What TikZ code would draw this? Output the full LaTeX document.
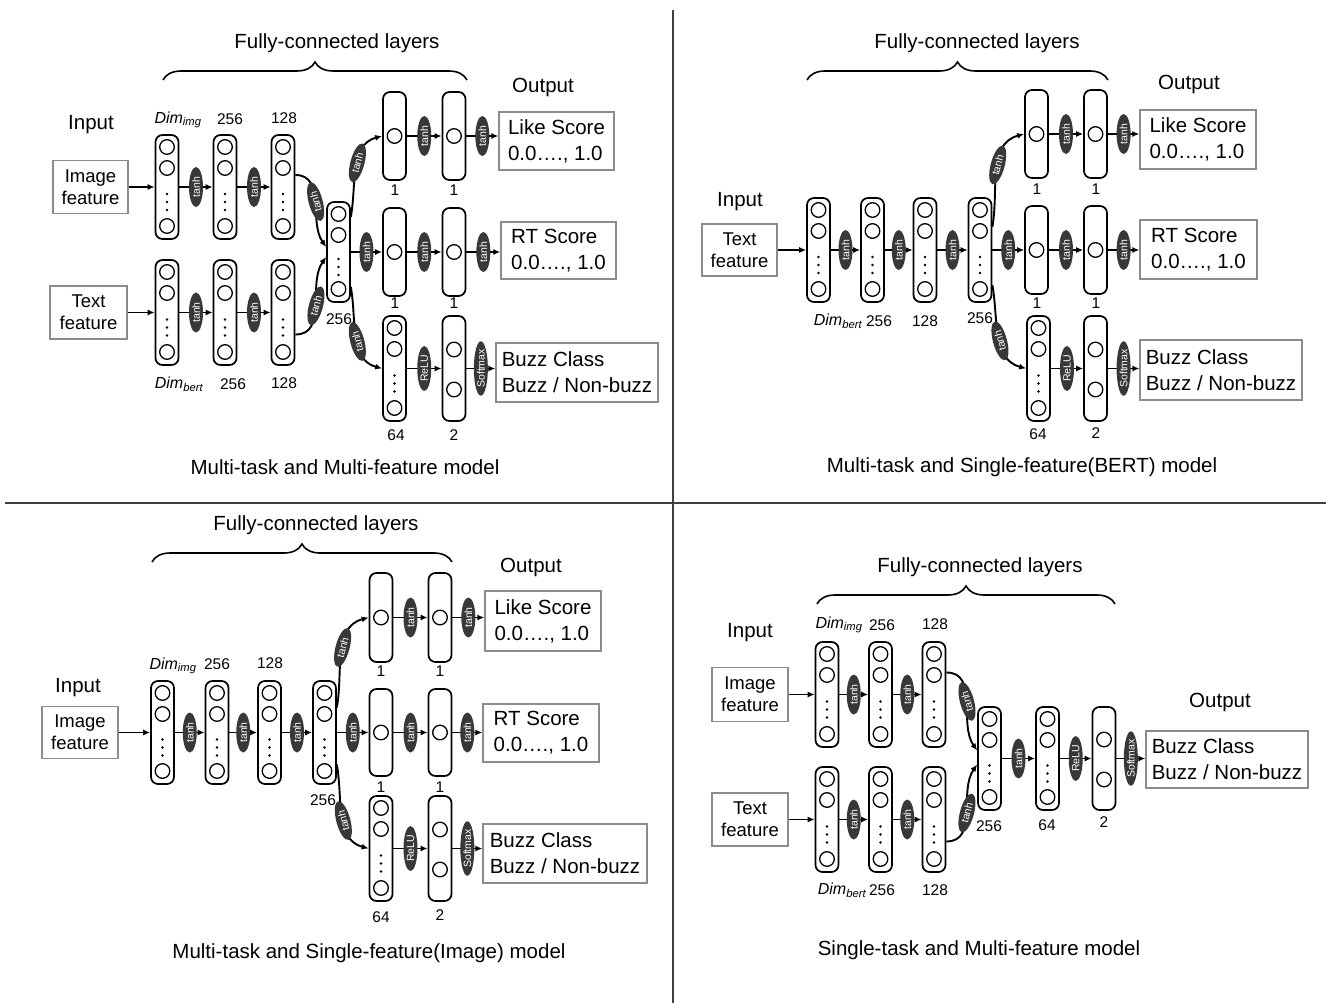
\documentclass[tikz,border=0pt]{standalone}
\usepackage{fontspec}
\setmainfont{Liberation Sans}
\usetikzlibrary{shapes.geometric,arrows.meta,decorations.pathreplacing,calc}

\newcommand{\layfour}[4]{%
  \node[layer, minimum height={#4-#3}] (#1) at ({#2},{-(#3+#4)/2}) {};
  \draw[neuron] ({#2},{-(#3+12)}) circle[radius=7.3pt];
  \draw[neuron] ({#2},{-(#3+33)}) circle[radius=7.3pt];
  \draw[neuron] ({#2},{-(#4-13)}) circle[radius=7.3pt];
  \foreach \k in {0,1,2}{\fill ({#2},{-((#3+#4)/2+7+\k*8)}) circle[radius=1.4pt];}
}
\newcommand{\layone}[4]{%
  \node[layer, minimum height={#4-#3}] (#1) at ({#2},{-(#3+#4)/2}) {};
  \draw[neuron] ({#2},{-(#3+#4)/2}) circle[radius=7.3pt];
}
\newcommand{\laytwo}[4]{%
  \node[layer, minimum height={#4-#3}] (#1) at ({#2},{-(#3+#4)/2}) {};
  \draw[neuron] ({#2},{-((#3+#4)/2-19)}) circle[radius=7.3pt];
  \draw[neuron] ({#2},{-((#3+#4)/2+21)}) circle[radius=7.3pt];
}

\tikzset{
 layer/.style={draw, line width=1.7pt, rounded corners=7pt, minimum width=23pt, inner sep=0pt},
 neuron/.style={line width=1.3pt},
 act/.style={ellipse, fill=black!78, text=white, font=\fontsize{10.5}{10.5}\selectfont, inner sep=0pt, minimum width=40pt, minimum height=14pt, rotate=90},
 arr/.style={line width=1.9pt, -{Latex[length=7pt,width=6pt]}},
 inbox/.style={draw=black!45, line width=1.3pt, align=center, font=\fontsize{18.5}{22}\selectfont, inner sep=0pt},
 outbox/.style={draw=black!45, line width=1.3pt, align=left, font=\fontsize{20.5}{26}\selectfont, inner sep=0pt},
 lbl/.style={font=\fontsize{20.5}{24}\selectfont},
 num/.style={font=\fontsize{15.5}{18}\selectfont},
 dim/.style={font=\fontsize{16}{18}\selectfont\itshape},
 brc/.style={decorate, decoration={brace, amplitude=18pt}, line width=1.6pt},
 divider/.style={line width=1.5pt, draw=black!75},
}

\begin{document}
\begin{tikzpicture}[x=1pt,y=1pt]
\fill[white] (0,0) rectangle (1326,-1003);
\useasboundingbox (0,0) rectangle (1326,-1003);

% dividers
\draw[divider] (673,-10) -- (673,-1003);
\draw[divider] (5,-503) -- (1326,-503);

%================ Panel A (top-left)
\node[lbl] (aFC) at (337,-43) {Fully-connected layers};
\draw[brc] (163,-80) -- (467,-80);
\node[lbl] (aOut) at (543,-87) {Output};
\node[lbl] (aIn) at (91,-125) {Input};
\node[inbox, minimum width=75pt, minimum height=53pt] (aimg) at (90.5,-187) {Image\\feature};
\node[inbox, minimum width=77pt, minimum height=53pt] (atxt) at (88.5,-312.5) {Text\\feature};
\layfour{a1}{167}{135}{239}
\layfour{a2}{225}{135}{239}
\layfour{a3}{283}{135}{239}
\layfour{a4}{167}{260}{365}
\layfour{a5}{225}{260}{365}
\layfour{a6}{283}{260}{365}
\layfour{am}{338.5}{202}{302}
\node[dim] (aD1) at (178,-120) {Dim\textsubscript{img}};
\node[num] (aN1) at (230,-119) {256};
\node[num] (aN2) at (284,-118) {128};
\node[dim] (aD2) at (179,-384) {Dim\textsubscript{bert}};
\node[num] (aN3) at (233,-384) {256};
\node[num] (aN4) at (284,-383) {128};
\node[num] (aN5) at (339,-319) {256};
\draw[arr] (aimg.east) -- (a1.west);
\draw[arr] (atxt.east) -- (a4.west);
\draw[arr] (a1.east) -- node[act]{tanh} (a2.west);
\draw[arr] (a2.east) -- node[act]{tanh} (a3.west);
\draw[arr] (a4.east) -- node[act]{tanh} (a5.west);
\draw[arr] (a5.east) -- node[act]{tanh} (a6.west);
\draw[arr] ([yshift=12pt]a3.east) to[out=0,in=125] node[act,rotate=15]{tanh} ([yshift=5pt]am.west);
\draw[arr] ([yshift=-22pt]a6.east) to[out=0,in=-125] node[act,rotate=-15]{tanh} ([yshift=-5pt]am.west);
\layone{aA1}{394.5}{92}{180}
\layone{aB1}{454}{92}{180}
\layone{aA2}{394.5}{208}{296}
\layone{aB2}{454}{208}{296}
\layfour{aA3}{394.5}{316}{421}
\laytwo{aB3}{454}{316}{421}
\node[outbox, minimum width=115pt, minimum height=58pt] (aLike) at (556.5,-141) {Like Score\\0.0…., 1.0};
\node[outbox, minimum width=115pt, minimum height=57pt] (aRT) at (558.5,-250.5) {RT Score\\0.0…., 1.0};
\node[outbox, minimum width=162pt, minimum height=59pt] (aBuzz) at (577,-372.5) {Buzz Class\\Buzz / Non-buzz};
\draw[arr] ([yshift=35pt]am.east) to[out=80,in=195] node[act,rotate=-15,pos=0.55]{tanh} (aA1.west);
\draw[arr] (am.east) -- node[act]{tanh} (aA2.west);
\draw[arr] ([yshift=-35pt]am.east) to[out=-80,in=165] node[act,rotate=15,pos=0.55]{tanh} (aA3.west);
\draw[arr] (aA1.east) -- node[act]{tanh} (aB1.west);
\draw[arr] (aB1.east) -- node[act]{tanh} (aB1.east -| aLike.west);
\draw[arr] (aA2.east) -- node[act]{tanh} (aB2.west);
\draw[arr] (aB2.east) -- node[act]{tanh} (aB2.east -| aRT.west);
\draw[arr] (aA3.east) -- node[act, minimum width=45pt]{ReLU} (aB3.west);
\draw[arr] (aB3.east) -- node[act, minimum width=52pt, minimum height=14pt]{Softmax} (aB3.east -| aBuzz.west);
\node[num] (aL1) at (395,-190) {1};
\node[num] (aL2) at (454,-190) {1};
\node[num] (aL3) at (395,-303) {1};
\node[num] (aL4) at (454,-303) {1};
\node[num] (aL5) at (396,-435) {64};
\node[num] (aL6) at (454,-435) {2};
\node[lbl] (aT) at (345,-467) {Multi-task and Multi-feature model};

%================ Panel B (top-right)
\node[lbl] (bFC) at (977,-43) {Fully-connected layers};
\draw[brc] (807,-80) -- (1108,-80);
\node[lbl] (bOut) at (1189,-84) {Output};
\node[lbl] (bIn) at (740,-202) {Input};
\node[inbox, minimum width=75pt, minimum height=52pt] (btxt) at (739.5,-250) {Text\\feature};
\layfour{b1}{818.5}{198}{302}
\layfour{b2}{872.5}{198}{302}
\layfour{b3}{925}{198}{302}
\layfour{bm}{980}{198}{302}
\node[dim] (bD1) at (838,-321) {Dim\textsubscript{bert}};
\node[num] (bN1) at (879,-321) {256};
\node[num] (bN2) at (925,-321) {128};
\node[num] (bN3) at (980,-318) {256};
\draw[arr] (btxt.east) -- (b1.west);
\draw[arr] (b1.east) -- node[act]{tanh} (b2.west);
\draw[arr] (b2.east) -- node[act]{tanh} (b3.west);
\draw[arr] (b3.east) -- node[act]{tanh} (bm.west);
\layone{bA1}{1036.5}{90}{178}
\layone{bB1}{1095.5}{90}{178}
\layone{bA2}{1036.5}{206}{294}
\layone{bB2}{1095.5}{206}{294}
\layfour{bA3}{1038.5}{316}{421}
\laytwo{bB3}{1095.5}{316}{421}
\node[outbox, minimum width=116pt, minimum height=59pt] (bLike) at (1198,-139.5) {Like Score\\0.0…., 1.0};
\node[outbox, minimum width=117pt, minimum height=59pt] (bRT) at (1198.5,-249.5) {RT Score\\0.0…., 1.0};
\node[outbox, minimum width=162pt, minimum height=60pt] (bBuzz) at (1221,-370) {Buzz Class\\Buzz / Non-buzz};
\draw[arr] ([yshift=23pt]bm.east) to[out=80,in=195] node[act,rotate=-15,pos=0.55]{tanh} (bA1.west);
\draw[arr] (bm.east) -- node[act]{tanh} (bA2.west);
\draw[arr] ([yshift=-35pt]bm.east) to[out=-80,in=165] node[act,rotate=15,pos=0.55]{tanh} (bA3.west);
\draw[arr] (bA1.east) -- node[act]{tanh} (bB1.west);
\draw[arr] (bB1.east) -- node[act]{tanh} (bB1.east -| bLike.west);
\draw[arr] (bA2.east) -- node[act]{tanh} (bB2.west);
\draw[arr] (bB2.east) -- node[act]{tanh} (bB2.east -| bRT.west);
\draw[arr] (bA3.east) -- node[act, minimum width=45pt]{ReLU} (bB3.west);
\draw[arr] (bB3.east) -- node[act, minimum width=52pt, minimum height=14pt]{Softmax} (bB3.east -| bBuzz.west);
\node[num] (bL1) at (1037,-189) {1};
\node[num] (bL2) at (1096,-189) {1};
\node[num] (bL3) at (1037,-303) {1};
\node[num] (bL4) at (1096,-303) {1};
\node[num] (bL5) at (1038,-434) {64};
\node[num] (bL6) at (1096,-433) {2};
\node[lbl] (bT) at (1022,-467) {Multi-task and Single-feature(BERT) model};

%================ Panel C (bottom-left)
\node[lbl] (cFC) at (316,-525) {Fully-connected layers};
\draw[brc] (152,-562) -- (452,-562);
\node[lbl] (cOut) at (531,-567) {Output};
\node[lbl] (cIn) at (78,-688) {Input};
\node[inbox, minimum width=76pt, minimum height=52pt] (cimg) at (80,-732.5) {Image\\feature};
\layfour{c1}{162.5}{681}{784}
\layfour{c2}{217}{681}{784}
\layfour{c3}{269.5}{681}{784}
\layfour{cm}{324.5}{681}{784}
\node[dim] (cD1) at (173,-666) {Dim\textsubscript{img}};
\node[num] (cN1) at (217,-664) {256};
\node[num] (cN2) at (270,-663) {128};
\node[num] (cN3) at (323,-800) {256};
\draw[arr] (cimg.east) -- (c1.west);
\draw[arr] (c1.east) -- node[act]{tanh} (c2.west);
\draw[arr] (c2.east) -- node[act]{tanh} (c3.west);
\draw[arr] (c3.east) -- node[act]{tanh} (cm.west);
\layone{cA1}{381}{573}{662}
\layone{cB1}{440}{573}{662}
\layone{cA2}{381}{689}{776}
\layone{cB2}{440}{689}{776}
\layfour{cA3}{381}{796}{901}
\laytwo{cB3}{440}{796}{901}
\node[outbox, minimum width=116pt, minimum height=60pt] (cLike) at (543,-621) {Like Score\\0.0…., 1.0};
\node[outbox, minimum width=116pt, minimum height=58pt] (cRT) at (541,-733) {RT Score\\0.0…., 1.0};
\node[outbox, minimum width=164pt, minimum height=59pt] (cBuzz) at (565,-853.5) {Buzz Class\\Buzz / Non-buzz};
\draw[arr] ([yshift=25pt]cm.east) to[out=80,in=195] node[act,rotate=-15,pos=0.55]{tanh} (cA1.west);
\draw[arr] (cm.east) -- node[act]{tanh} (cA2.west);
\draw[arr] ([yshift=-32pt]cm.east) to[out=-80,in=165] node[act,rotate=15,pos=0.55]{tanh} (cA3.west);
\draw[arr] (cA1.east) -- node[act]{tanh} (cB1.west);
\draw[arr] (cB1.east) -- node[act]{tanh} (cB1.east -| cLike.west);
\draw[arr] (cA2.east) -- node[act]{tanh} (cB2.west);
\draw[arr] (cB2.east) -- node[act]{tanh} (cB2.east -| cRT.west);
\draw[arr] (cA3.east) -- node[act, minimum width=45pt]{ReLU} (cB3.west);
\draw[arr] (cB3.east) -- node[act, minimum width=52pt, minimum height=14pt]{Softmax} (cB3.east -| cBuzz.west);
\node[num] (cL1) at (381,-671) {1};
\node[num] (cL2) at (440,-671) {1};
\node[num] (cL3) at (381,-787) {1};
\node[num] (cL4) at (440,-787) {1};
\node[num] (cL5) at (381,-917) {64};
\node[num] (cL6) at (440,-915) {2};
\node[lbl] (cT) at (369,-953) {Multi-task and Single-feature(Image) model};

%================ Panel D (bottom-right)
\node[lbl] (dFC) at (980,-567) {Fully-connected layers};
\draw[brc] (817,-604) -- (1115,-604);
\node[lbl] (dOut) at (1220,-702) {Output};
\node[lbl] (dIn) at (750,-633) {Input};
\node[inbox, minimum width=76pt, minimum height=54pt] (dimg) at (750,-694.5) {Image\\feature};
\node[inbox, minimum width=76pt, minimum height=53pt] (dtxt) at (750,-819.5) {Text\\feature};
\layfour{d1}{827}{642}{747}
\layfour{d2}{880.5}{642}{747}
\layfour{d3}{934}{642}{747}
\layfour{d4}{827}{767}{872}
\layfour{d5}{880.5}{767}{872}
\layfour{d6}{934}{767}{872}
\layfour{dm}{989.5}{707}{810}
\layfour{dn}{1047.5}{707}{810}
\laytwo{dk}{1104}{707}{810}
\node[dim] (dD1) at (839,-625) {Dim\textsubscript{img}};
\node[num] (dN1) at (882,-625) {256};
\node[num] (dN2) at (935,-624) {128};
\node[dim] (dD2) at (842,-890) {Dim\textsubscript{bert}};
\node[num] (dN3) at (882,-890) {256};
\node[num] (dN4) at (935,-890) {128};
\node[num] (dN5) at (989,-826) {256};
\node[num] (dN6) at (1047,-825) {64};
\node[num] (dN7) at (1104,-822) {2};
\node[outbox, minimum width=162pt, minimum height=57pt] (dBuzz) at (1227,-759.5) {Buzz Class\\Buzz / Non-buzz};
\draw[arr] (dimg.east) -- (d1.west);
\draw[arr] (dtxt.east) -- (d4.west);
\draw[arr] (d1.east) -- node[act]{tanh} (d2.west);
\draw[arr] (d2.east) -- node[act]{tanh} (d3.west);
\draw[arr] (d4.east) -- node[act]{tanh} (d5.west);
\draw[arr] (d5.east) -- node[act]{tanh} (d6.west);
\draw[arr] ([yshift=22pt]d3.east) to[out=0,in=125] node[act,rotate=15]{tanh} ([yshift=8pt]dm.west);
\draw[arr] ([yshift=-22pt]d6.east) to[out=0,in=-125] node[act,rotate=-15]{tanh} ([yshift=-6pt]dm.west);
\draw[arr] (dm.east) -- node[act]{tanh} (dn.west);
\draw[arr] (dn.east) -- node[act, minimum width=45pt]{ReLU} (dk.west);
\draw[arr] (dk.east) -- node[act, minimum width=52pt, minimum height=14pt]{Softmax} (dk.east -| dBuzz.west);
\node[lbl] (dT) at (979,-950) {Single-task and Multi-feature model};
\end{tikzpicture}
\end{document}
